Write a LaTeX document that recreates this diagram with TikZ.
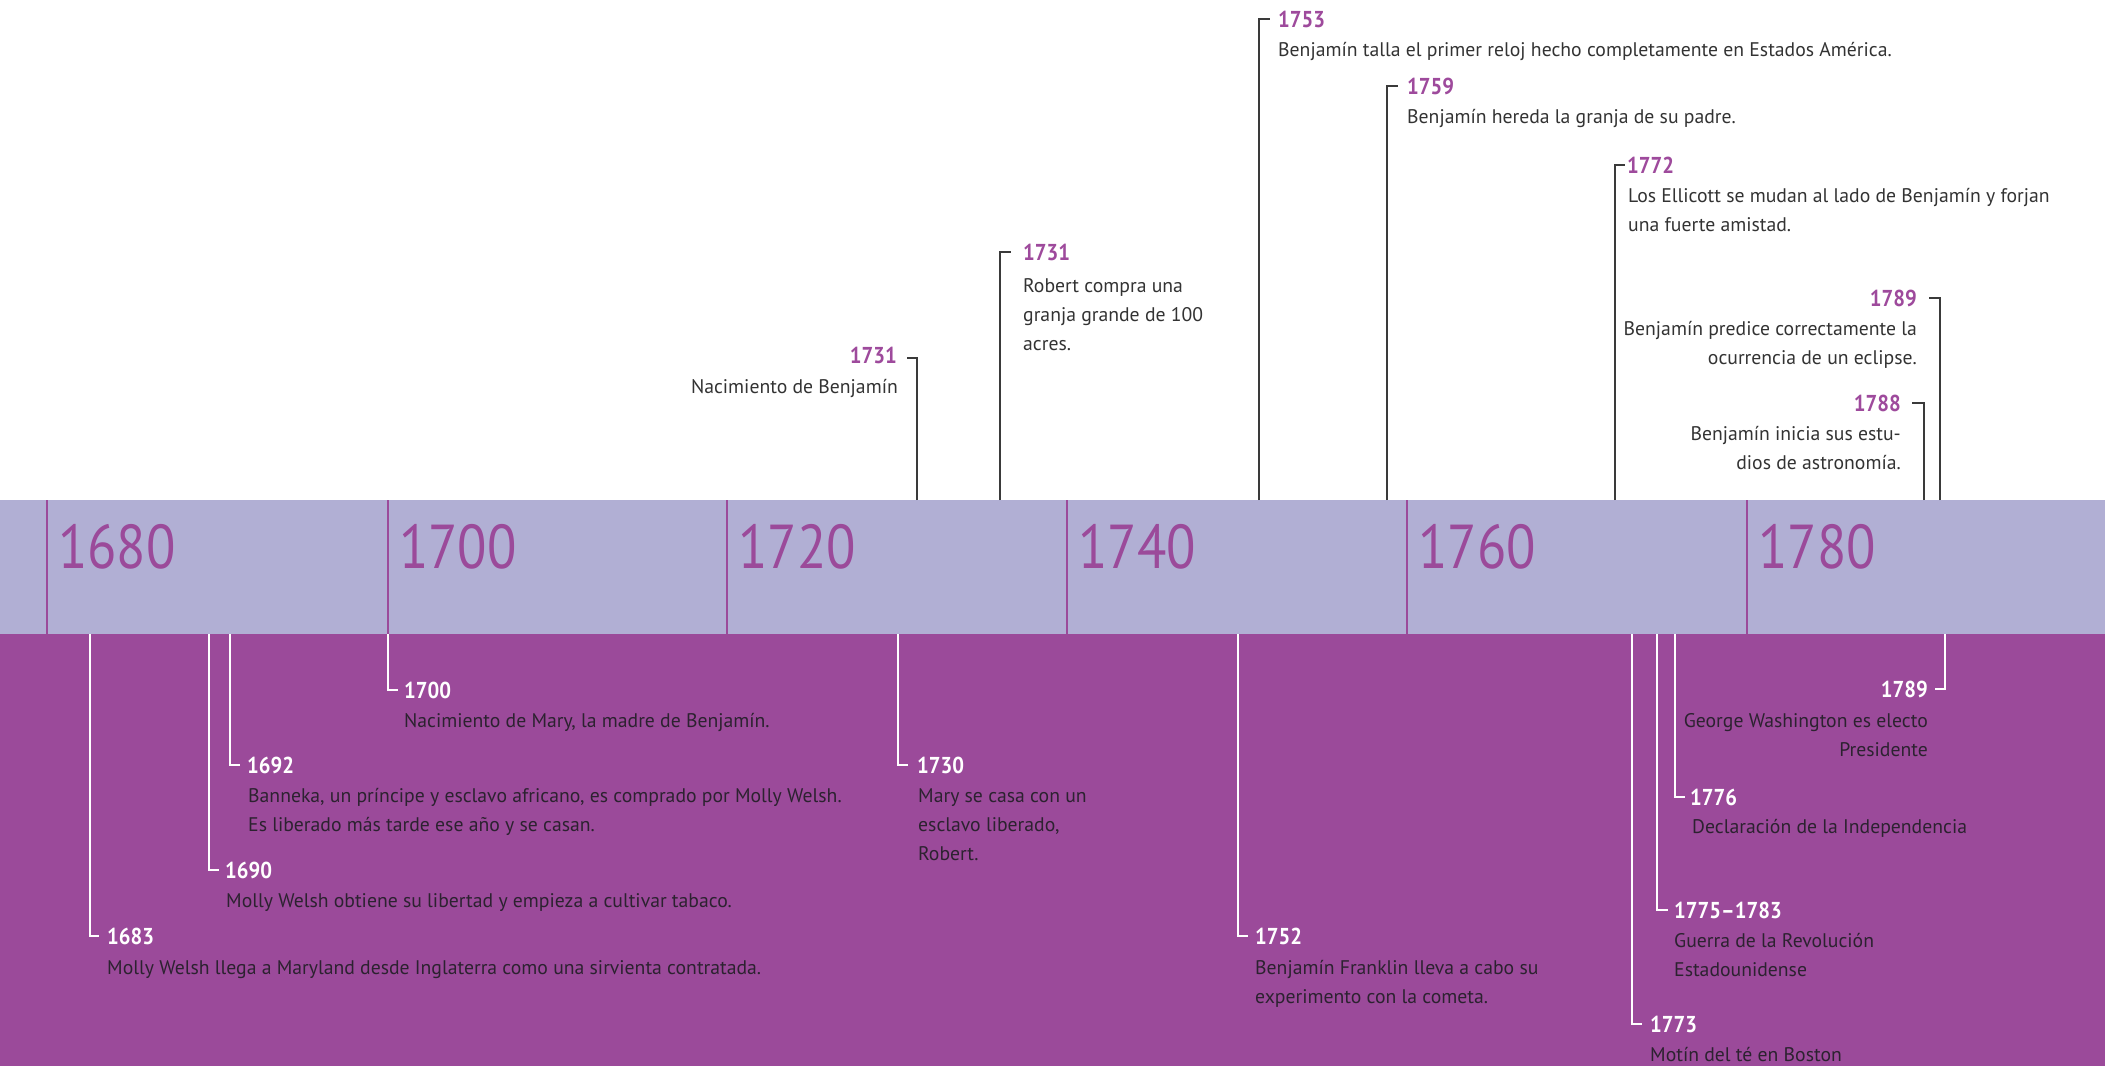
\documentclass[tikz,border=0pt]{standalone}
\usepackage{fontspec}
\setmainfont{PT Sans}
\definecolor{lav}{HTML}{B1AFD4}
\definecolor{purp}{HTML}{9B4A9A}
\definecolor{yrpurp}{HTML}{9E4A9C}
\definecolor{toptxt}{HTML}{333333}
\definecolor{bottxt}{HTML}{2C2230}
\definecolor{linegray}{HTML}{3A3A3A}
\tikzset{
  yrtop/.style={font=\fontsize{23}{28}\selectfont\bfseries\addfontfeature{FakeStretch=0.9}, text=yrpurp, inner sep=0pt},
  yrbot/.style={font=\fontsize{23}{28}\selectfont\bfseries\addfontfeature{FakeStretch=0.9}, text=white, inner sep=0pt},
  txttop/.style={font=\fontsize{19.7}{29}\selectfont, text=toptxt, inner sep=0pt},
  txtbot/.style={font=\fontsize{19.7}{29}\selectfont, text=bottxt, inner sep=0pt},
  decade/.style={font=\fontsize{62}{62}\selectfont\addfontfeature{FakeStretch=0.87}, text=purp, anchor=base west, inner sep=0pt},
  linktop/.style={draw=linegray, line width=1.6pt},
  linkbot/.style={draw=white, line width=1.6pt},
  tickline/.style={draw=purp, line width=2.5pt}
}
\begin{document}
\begin{tikzpicture}[x=1pt,y=-1pt]
\useasboundingbox (0,0) rectangle (2105,1066);
\fill[white] (0,0) rectangle (2105,500);
\fill[lav] (0,500) rectangle (2105,634);
\fill[purp] (0,634) rectangle (2105,1066);

% decade ticks and labels
\foreach \yr/\x in {1680/47,1700/388,1720/727,1740/1067,1760/1407,1780/1747}{
  \coordinate (ta\yr) at (\x,500);
  \coordinate (tb\yr) at (\x,634);
  \draw[tickline] (ta\yr) -- (tb\yr);
  \node[decade] (dec\yr) at (\x+11,568) {\yr};
}

% ---------- top events ----------
% 1731 birth
\coordinate (c1) at (917,500); \coordinate (e1) at (907,358);
\draw[linktop] (c1) |- (e1);
\node[yrtop, anchor=base east] (y1) at (897,363.5) {1731};
\node[txttop, anchor=north east, align=right] (t1) at (898,373) {\strut Nacimiento de Benjamín};

% 1731 Robert
\coordinate (c2) at (1000,500); \coordinate (e2) at (1011,252);
\draw[linktop] (c2) |- (e2);
\node[yrtop, anchor=base west] (y2) at (1023,260.5) {1731};
\node[txttop, anchor=north west, align=left] (t2) at (1023,272) {\strut Robert compra una\\granja grande de 100\\acres.};

% 1753
\coordinate (c3) at (1259,500); \coordinate (e3) at (1270,19);
\draw[linktop] (c3) |- (e3);
\node[yrtop, anchor=base west] (y3) at (1278,27.5) {1753};
\node[txttop, anchor=north west, align=left] (t3) at (1278,36) {\strut Benjamín talla el primer reloj hecho completamente en Estados América.};

% 1759
\coordinate (c4) at (1387,500); \coordinate (e4) at (1398,86);
\draw[linktop] (c4) |- (e4);
\node[yrtop, anchor=base west] (y4) at (1407,94.5) {1759};
\node[txttop, anchor=north west, align=left] (t4) at (1407,103) {\strut Benjamín hereda la granja de su padre.};

% 1772
\coordinate (c5) at (1615,500); \coordinate (e5) at (1625,165);
\draw[linktop] (c5) |- (e5);
\node[yrtop, anchor=base west] (y5) at (1627,173.5) {1772};
\node[txttop, anchor=north west, align=left] (t5) at (1628,182) {\strut Los Ellicott se mudan al lado de Benjamín y forjan\\una fuerte amistad.};

% 1789 eclipse
\coordinate (c6) at (1940,500); \coordinate (e6) at (1929,298);
\draw[linktop] (c6) |- (e6);
\node[yrtop, anchor=base east] (y6) at (1917,306.5) {1789};
\node[txttop, anchor=north east, align=right] (t6) at (1917,315) {\strut Benjamín predice correctamente la\\ocurrencia de un eclipse.};

% 1788
\coordinate (c7) at (1924,500); \coordinate (e7) at (1912,403);
\draw[linktop] (c7) |- (e7);
\node[yrtop, anchor=base east] (y7) at (1901,411.5) {1788};
\node[txttop, anchor=north east, align=right] (t7) at (1901,420) {\strut Benjamín inicia sus estu-\\dios de astronomía.};

% ---------- bottom events ----------
% 1683
\coordinate (b1) at (90,634); \coordinate (f1) at (99,936);
\draw[linkbot] (b1) |- (f1);
\node[yrbot, anchor=base west] (z1) at (107,944.5) {1683};
\node[txtbot, anchor=north west, align=left] (s1) at (107,954) {\strut Molly Welsh llega a Maryland desde Inglaterra como una sirvienta contratada.};

% 1690
\coordinate (b2) at (209,634); \coordinate (f2) at (219,870);
\draw[linkbot] (b2) |- (f2);
\node[yrbot, anchor=base west] (z2) at (225,878.5) {1690};
\node[txtbot, anchor=north west, align=left] (s2) at (226,887) {\strut Molly Welsh obtiene su libertad y empieza a cultivar tabaco.};

% 1692
\coordinate (b3) at (230,634); \coordinate (f3) at (240,765);
\draw[linkbot] (b3) |- (f3);
\node[yrbot, anchor=base west] (z3) at (247,773.5) {1692};
\node[txtbot, anchor=north west, align=left] (s3) at (248,782) {\strut Banneka, un príncipe y esclavo africano, es comprado por Molly Welsh.\\Es liberado más tarde ese año y se casan.};

% 1700
\coordinate (b4) at (388,634); \coordinate (f4) at (398,690);
\draw[linkbot] (b4) |- (f4);
\node[yrbot, anchor=base west] (z4) at (404,698.5) {1700};
\node[txtbot, anchor=north west, align=left] (s4) at (404,707) {\strut Nacimiento de Mary, la madre de Benjamín.};

% 1730
\coordinate (b5) at (898,634); \coordinate (f5) at (908,765);
\draw[linkbot] (b5) |- (f5);
\node[yrbot, anchor=base west] (z5) at (917,773.5) {1730};
\node[txtbot, anchor=north west, align=left] (s5) at (918,782) {\strut Mary se casa con un\\esclavo liberado,\\Robert.};

% 1752
\coordinate (b6) at (1238,634); \coordinate (f6) at (1248,936);
\draw[linkbot] (b6) |- (f6);
\node[yrbot, anchor=base west] (z6) at (1255,944.5) {1752};
\node[txtbot, anchor=north west, align=left] (s6) at (1255,954) {\strut Benjamín Franklin lleva a cabo su\\experimento con la cometa.};

% 1773
\coordinate (b7) at (1632,634); \coordinate (f7) at (1642,1024);
\draw[linkbot] (b7) |- (f7);
\node[yrbot, anchor=base west] (z7) at (1650,1032.5) {1773};
\node[txtbot, anchor=north west, align=left] (s7) at (1650,1041) {\strut Motín del té en Boston};

% 1775-1783
\coordinate (b8) at (1657,634); \coordinate (f8) at (1668,910);
\draw[linkbot] (b8) |- (f8);
\node[yrbot, anchor=base west] (z8) at (1674,918.5) {1775–1783};
\node[txtbot, anchor=north west, align=left] (s8) at (1674,927) {\strut Guerra de la Revolución\\Estadounidense};

% 1776
\coordinate (b9) at (1675,634); \coordinate (f9) at (1685,797);
\draw[linkbot] (b9) |- (f9);
\node[yrbot, anchor=base west] (z9) at (1690,805.5) {1776};
\node[txtbot, anchor=north west, align=left] (s9) at (1692,813) {\strut Declaración de la Independencia};

% 1789 Washington
\coordinate (b10) at (1945,634); \coordinate (f10) at (1935,689);
\draw[linkbot] (b10) |- (f10);
\node[yrbot, anchor=base east] (z10) at (1928,697.5) {1789};
\node[txtbot, anchor=north east, align=right] (s10) at (1928,707) {\strut George Washington es electo\\Presidente};
\end{tikzpicture}
\end{document}
